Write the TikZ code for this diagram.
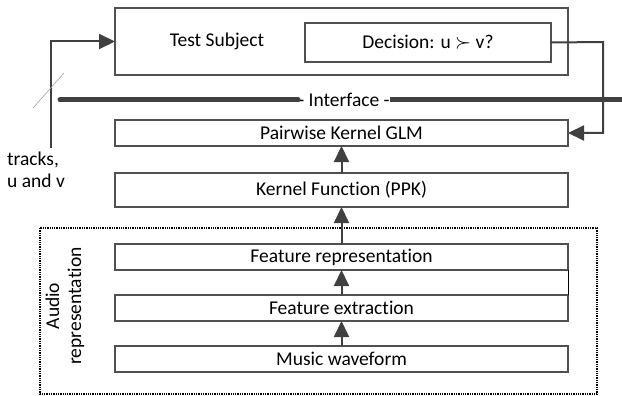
\documentclass[tikz,border=0pt]{standalone}
\usepackage{amssymb,amsmath}
\usepackage{fontspec}
\setmainfont{Carlito}[Ligatures=NoCommon]
\usetikzlibrary{arrows.meta}

\definecolor{linegray}{HTML}{404040}
\definecolor{boxgray}{HTML}{505050}

\tikzset{
  layer/.style={rectangle, draw=boxgray, line width=1.6pt, minimum width=453pt, inner sep=0pt, outer sep=0pt},
  flow/.style={draw=linegray, line width=2pt, -{Triangle[length=16pt, width=15pt]}},
}

\begin{document}
\begin{tikzpicture}[x=1pt, y=-1pt, font=\fontsize{19.5}{24}\selectfont]
\useasboundingbox (0,0) rectangle (622,396);
\begin{scope}

  % test subject on top
  \node[layer, minimum height=67pt] (test) at (341.5,41.5) {};
  \node (testlbl) at (217,41) {Test Subject};
  \node[layer, minimum width=246pt, minimum height=39pt] (decision) at (428,42.5)
       {Decision: u $\succ$ v?};

  % interface line
  \node[inner sep=0pt] (iface) at (344,100) {- Interface -};
  \coordinate (ifl) at (60,100);
  \coordinate (ifr) at (625,100);
  \draw[linegray, line width=5pt, line cap=round] (ifl) -- (iface.west);
  \draw[linegray, line width=5pt] (iface.east) -- (ifr);

  % model stack
  \node[layer, minimum height=26pt] (glm) at (341.5,133) {Pairwise Kernel GLM};
  \node[layer, minimum height=34pt] (kernel) at (341.5,190) {Kernel Function (PPK)};

  % audio representation
  \draw[black, line width=1.3pt, densely dotted] (40,228) rectangle (597,394);
  \node[rotate=90, align=center, inner sep=0pt] (audiolbl) at (65,306)
       {Audio\\[-2pt]representation};
  \node[layer, minimum height=26pt] (featrep) at (341.5,257) {Feature representation};
  \node[layer, minimum height=26pt] (featext) at (341.5,308) {Feature extraction};
  \node[layer, minimum height=26pt] (music) at (341.5,359) {Music waveform};
  \draw[black, line width=1pt] (featrep.south east) -- (featext.north east);

  \path[flow] (music) -- (featext);
  \path[flow] (featext) -- (featrep);
  \path[flow] (featrep) -- (kernel);
  \path[flow] (kernel) -- (glm);

  % feedback from the decision
  \coordinate (fb) at (603,42);
  \draw[flow] (decision.east) -- (fb) |- (glm.east);

  % tracks in
  \coordinate (tracksin) at (51,148);
  \draw[flow] (tracksin) |- (test.west);
  \draw[gray!70, line width=0.6pt] (33,108) -- (64,73);
  \node[align=left, anchor=west, inner sep=0pt] (trackslbl) at (7,170)
       {tracks,\\[-2pt]u and v};

\end{scope}
\end{tikzpicture}
\end{document}
